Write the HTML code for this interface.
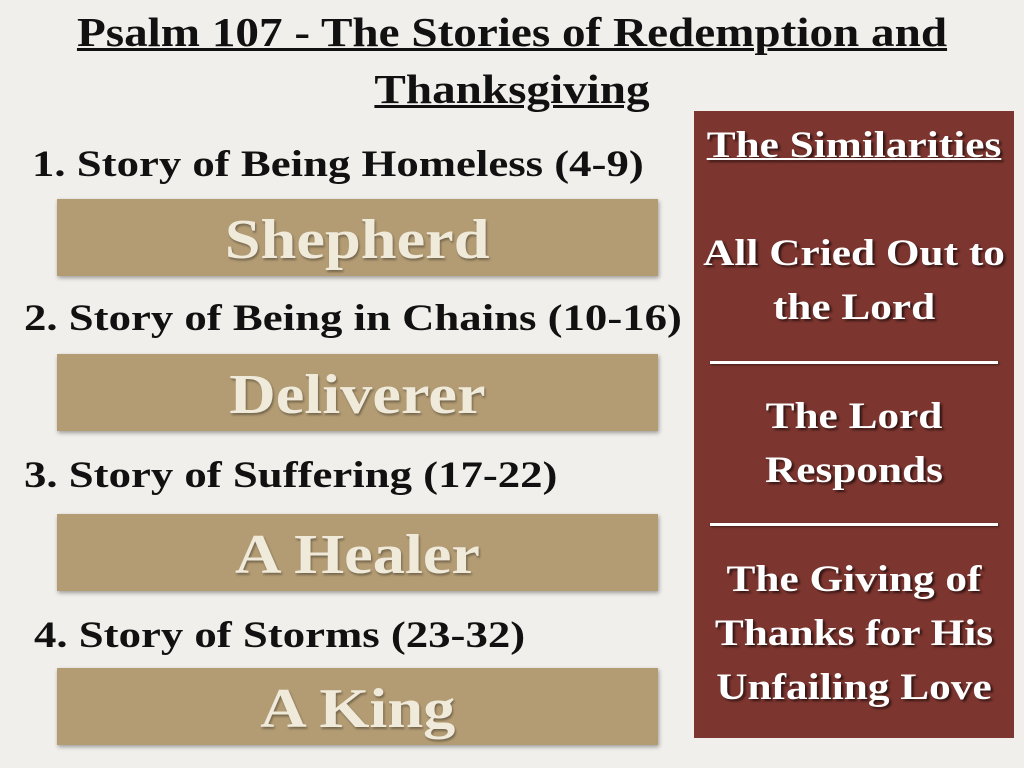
<!DOCTYPE html>
<html><head><style>
body{margin:0;width:1024px;height:768px;background:#f1efeb;position:relative;overflow:hidden;font-family:"Liberation Serif",serif;font-weight:bold;color:#111}
.t{position:absolute;left:0;width:1024px;text-align:center;font-size:41px;text-decoration:underline;text-decoration-thickness:3px;transform:scaleX(1.15)}
.h{position:absolute;font-size:37px;white-space:nowrap;transform:scaleX(1.21);transform-origin:left}
.b{position:absolute;left:57px;width:601px;height:77px;background:#b39c74;box-shadow:1px 2px 4px rgba(0,0,0,.35);color:#f0eadb;font-size:56px;text-align:center;line-height:83px;text-shadow:1px 2px 2px rgba(0,0,0,.35)}
.b span{display:inline-block;transform:scaleX(1.15)}
.p{position:absolute;left:694px;top:111px;width:320px;height:627px;background:#7d352f;color:#fff;text-align:center;text-shadow:2px 2px 2px rgba(0,0,0,.6)}
.p .x{position:absolute;left:0;width:320px;font-size:37px;line-height:54px;transform:scaleX(1.17)}
.p .ln{position:absolute;left:16px;width:288px;height:3px;background:#fff;box-shadow:1px 1px 2px rgba(0,0,0,.5)}
</style></head><body>
<div class="t" style="top:8px">Psalm 107 - The Stories of Redemption and</div>
<div class="t" style="top:65px">Thanksgiving</div>
<div class="h" style="left:32px;top:143px">1. Story of Being Homeless (4-9)</div>
<div class="b" style="top:199px"><span>Shepherd</span></div>
<div class="h" style="left:24px;top:297px">2. Story of Being in Chains (10-16)</div>
<div class="b" style="top:354px"><span>Deliverer</span></div>
<div class="h" style="left:24px;top:454px">3. Story of Suffering (17-22)</div>
<div class="b" style="top:514px"><span>A Healer</span></div>
<div class="h" style="left:34px;top:614px">4. Story of Storms (23-32)</div>
<div class="b" style="top:668px"><span>A King</span></div>
<div class="p">
<div class="x" style="top:8px;text-decoration:underline;text-decoration-thickness:2px">The Similarities</div>
<div class="x" style="top:116px">All Cried Out to<br>the Lord</div>
<div class="ln" style="top:250px"></div>
<div class="x" style="top:279px">The Lord<br>Responds</div>
<div class="ln" style="top:412px"></div>
<div class="x" style="top:442px">The Giving of<br>Thanks for His<br>Unfailing Love</div>
</div>
</body></html>
